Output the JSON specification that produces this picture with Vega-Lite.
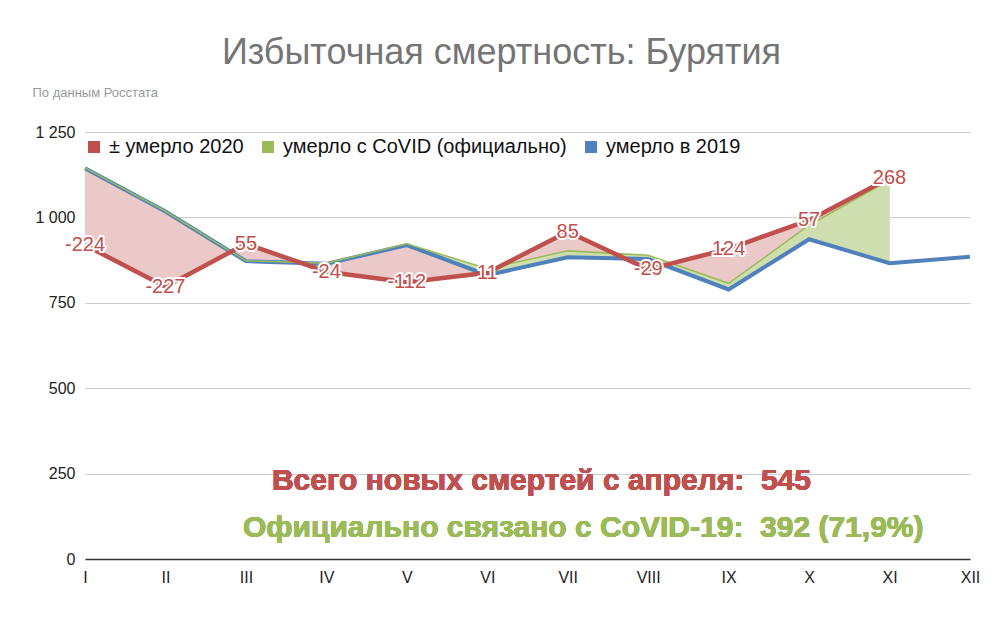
{
  "$schema": "https://vega.github.io/schema/vega-lite/v6.json",
  "width": 885,
  "height": 427,
  "autosize": {"type": "none"},
  "padding": {"left": 85, "top": 132, "right": 32, "bottom": 61},
  "background": "white",
  "title": {
    "text": "Избыточная смертность: Бурятия",
    "font": "Liberation Sans",
    "fontSize": 36,
    "fontWeight": "normal",
    "color": "#757575",
    "anchor": "middle",
    "frame": "group",
    "dx": -26,
    "offset": 14
  },
  "data": {
    "values": [
      {"month": "I", "d2019": 1144, "d2020": 919, "covid": 1145, "diff": "-224"},
      {"month": "II", "d2019": 1017, "d2020": 797, "covid": 1018, "diff": "-227"},
      {"month": "III", "d2019": 872, "d2020": 923, "covid": 873, "diff": "55"},
      {"month": "IV", "d2019": 864, "d2020": 841, "covid": 866, "diff": "-24"},
      {"month": "V", "d2019": 919, "d2020": 810, "covid": 923, "diff": "-112"},
      {"month": "VI", "d2019": 831, "d2020": 838, "covid": 850, "diff": "11"},
      {"month": "VII", "d2019": 883, "d2020": 958, "covid": 902, "diff": "85"},
      {"month": "VIII", "d2019": 878, "d2020": 848, "covid": 889, "diff": "-29"},
      {"month": "IX", "d2019": 789, "d2020": 908, "covid": 807, "diff": "124"},
      {"month": "X", "d2019": 936, "d2020": 992, "covid": 977, "diff": "57"},
      {"month": "XI", "d2019": 866, "d2020": 1115, "covid": 1110, "diff": "268"},
      {"month": "XII", "d2019": 885, "d2020": null, "covid": null, "diff": null}
    ]
  },
  "encoding": {
    "x": {
      "field": "month",
      "type": "ordinal",
      "sort": ["I", "II", "III", "IV", "V", "VI", "VII", "VIII", "IX", "X", "XI", "XII"],
      "scale": {"type": "point", "padding": 0},
      "axis": {
        "title": null,
        "labelAngle": 0,
        "ticks": false,
        "grid": false,
        "domainColor": "#333333",
        "domainWidth": 1.5,
        "labelFont": "Liberation Sans",
        "labelFontSize": 16,
        "labelColor": "#222222",
        "labelPadding": 10
      }
    }
  },
  "layer": [
    {
      "transform": [{"filter": "datum.d2020 != null"}],
      "mark": {"type": "area", "color": "#ebc9c9", "opacity": 1},
      "encoding": {
        "y": {
          "field": "d2020",
          "type": "quantitative",
          "scale": {"domain": [0, 1250], "nice": false},
          "axis": {
            "values": [0, 250, 500, 750, 1000, 1250],
            "labelExpr": "replace(format(datum.value, ','), ',', ' ')",
            "domain": false,
            "ticks": false,
            "gridColor": "#cccccc",
            "labelPadding": 10,
            "labelFont": "Liberation Sans",
            "labelFontSize": 16,
            "labelColor": "#222222",
            "title": "По данным Росстата",
            "titleAngle": 0,
            "titleX": -53,
            "titleY": -36,
            "titleAlign": "left",
            "titleBaseline": "alphabetic",
            "titleFont": "Liberation Sans",
            "titleFontSize": 13,
            "titleFontWeight": "normal",
            "titleColor": "#999999"
          }
        },
        "y2": {"field": "d2019"}
      }
    },
    {
      "transform": [{"filter": "datum.covid != null"}],
      "mark": {"type": "area", "color": "#cfdeae", "opacity": 1},
      "encoding": {
        "y": {"field": "covid", "type": "quantitative"},
        "y2": {"field": "d2019"}
      }
    },
    {
      "mark": {"type": "line", "strokeWidth": 4},
      "encoding": {
        "y": {"field": "d2019", "type": "quantitative"},
        "color": {"datum": "умерло в 2019"}
      }
    },
    {
      "transform": [{"filter": "datum.covid != null"}],
      "mark": {"type": "line", "strokeWidth": 1.5},
      "encoding": {
        "y": {"field": "covid", "type": "quantitative"},
        "color": {"datum": "умерло с CoVID (официально)"}
      }
    },
    {
      "transform": [{"filter": "datum.d2020 != null"}],
      "mark": {"type": "line", "strokeWidth": 4.5},
      "encoding": {
        "y": {"field": "d2020", "type": "quantitative"},
        "color": {
          "datum": "± умерло 2020",
          "scale": {
            "domain": ["± умерло 2020", "умерло с CoVID (официально)", "умерло в 2019"],
            "range": ["#c0504d", "#9bbb59", "#4f81bd"]
          },
          "legend": {
            "title": null,
            "orient": "none",
            "direction": "horizontal",
            "legendX": -1,
            "legendY": 5,
            "symbolType": "square",
            "symbolSize": 144,
            "symbolStrokeWidth": 0,
            "labelFont": "Liberation Sans",
            "labelFontSize": 20,
            "labelColor": "#111111",
            "labelLimit": 0,
            "labelOffset": 5,
            "columnPadding": 14,
            "padding": 0,
            "encode": {
              "symbols": {"update": {"fill": {"scale": "color", "field": "value"}, "strokeWidth": {"value": 0}, "opacity": {"value": 1}}}
            }
          }
        }
      }
    },
    {
      "transform": [{"filter": "datum.diff != null"}],
      "mark": {"type": "text", "font": "Liberation Sans", "fontSize": 20, "stroke": "white", "strokeWidth": 4, "strokeJoin": "round", "fill": "white", "align": "center", "baseline": "middle"},
      "encoding": {
        "y": {"field": "d2020", "type": "quantitative"},
        "text": {"field": "diff", "type": "nominal"}
      }
    },
    {
      "transform": [{"filter": "datum.diff != null"}],
      "mark": {"type": "text", "font": "Liberation Sans", "fontSize": 20, "fill": "#c0504d", "align": "center", "baseline": "middle"},
      "encoding": {
        "y": {"field": "d2020", "type": "quantitative"},
        "text": {"field": "diff", "type": "nominal"}
      }
    },
    {
      "mark": {"type": "text", "text": "Всего новых смертей с апреля:\u00a0\u00a0545", "font": "Liberation Sans", "fontSize": 30, "fontWeight": "bold", "fill": "#c0504d", "align": "left", "baseline": "alphabetic", "dx": 26},
      "encoding": {
        "x": {"datum": "III"},
        "y": {"datum": 202}
      }
    },
    {
      "mark": {"type": "text", "text": "Официально связано с CoVID-19:\u00a0\u00a0392 (71,9%)", "font": "Liberation Sans", "fontSize": 30, "fontWeight": "bold", "fill": "#9bbb59", "align": "left", "baseline": "alphabetic", "dx": -3},
      "encoding": {
        "x": {"datum": "III"},
        "y": {"datum": 64}
      }
    }
  ],
  "config": {
    "view": {"stroke": null},
    "font": "Liberation Sans"
  }
}
